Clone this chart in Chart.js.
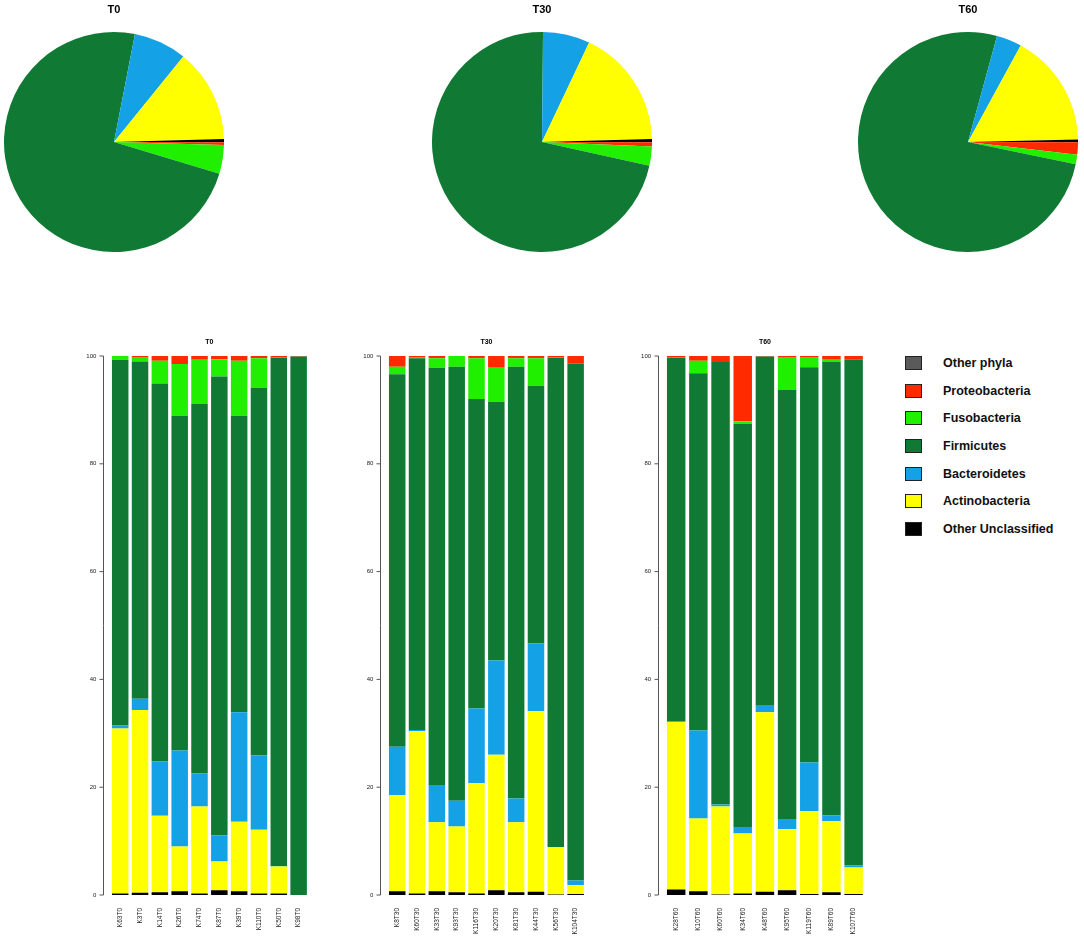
<!DOCTYPE html>
<html>
<head>
<meta charset="utf-8">
<script src="https://cdn.jsdelivr.net/npm/chart.js@4"></script>
<style>
  body { margin: 0; background: #fff; }
  #page { position: relative; width: 1084px; height: 937px; overflow: hidden; font-family: "Liberation Sans", Arial, sans-serif; }
  #page canvas { position: absolute; }
  #legend { position: absolute; left: 905px; top: 356px; }
  #legend .row { position: absolute; left: 0; height: 14px; white-space: nowrap; }
  #legend .box { position: absolute; left: 0; top: 0; width: 15px; height: 12px; border: 1px solid #222; }
  #legend .lbl { position: absolute; left: 38px; top: -1px; font-weight: bold; font-size: 12.5px; color: #111; line-height: 16px; }
</style>
</head>
<body>
<div id="page">
  <div id="legend"></div>
</div>
<script>

    // phyla, in legend order (top to bottom) = clockwise pie order from 3 o'clock
    const phyla = ['Other phyla', 'Proteobacteria', 'Fusobacteria', 'Firmicutes', 'Bacteroidetes', 'Actinobacteria', 'Other Unclassified'];
    const phylaColors = ['#5a5a5a', '#ff2a00', '#20f000', '#107a35', '#14a1e6', '#ffff00', '#000000'];

    // pie charts, mean relative abundance (%)
    const pieT0 = [0.05, 0.4, 4.2, 73.4, 7.8, 13.7, 0.45];
    const pieT30 = [0.05, 0.6, 2.8, 71.7, 6.9, 17.5, 0.45];
    const pieT60 = [0.05, 1.8, 1.4, 76.0, 3.7, 16.7, 0.35];

    // per sample bars, T0
    const samplesT0 = ['K63T0', 'K3T0', 'K14T0', 'K26T0', 'K74T0', 'K87T0', 'K39T0', 'K110T0', 'K50T0', 'K98T0'];
    const unclassT0 = [0.3, 0.4, 0.5, 0.7, 0.3, 0.9, 0.7, 0.3, 0.3, 0.0];
    const actinoT0 = [30.6, 33.9, 14.2, 8.3, 16.1, 5.3, 12.9, 11.8, 5.0, 0.0];
    const bacteroT0 = [0.6, 2.1, 10.1, 17.8, 6.2, 4.9, 20.3, 13.8, 0.1, 0.0];
    const firmT0 = [67.8, 62.6, 70.1, 62.1, 68.5, 85.1, 55.0, 68.2, 94.3, 99.9];
    const fusoT0 = [0.7, 0.8, 4.2, 9.6, 8.2, 3.2, 10.2, 5.5, 0.1, 0.0];
    const proteoT0 = [0.0, 0.2, 0.9, 1.5, 0.7, 0.6, 0.9, 0.4, 0.2, 0.1];
    const otherT0 = [0, 0, 0, 0, 0, 0, 0, 0, 0, 0];

    // T30
    const samplesT30 = ['K8T30', 'K60T30', 'K33T30', 'K93T30', 'K116T30', 'K20T30', 'K81T30', 'K44T30', 'K56T30', 'K104T30'];
    const unclassT30 = [0.7, 0.3, 0.7, 0.5, 0.3, 0.9, 0.5, 0.6, 0.1, 0.2];
    const actinoT30 = [17.8, 30.1, 12.8, 12.2, 20.5, 25.1, 13.0, 33.5, 8.8, 1.6];
    const bacteroT30 = [9.0, 0.2, 6.9, 4.8, 13.8, 17.5, 4.4, 12.6, 0.0, 0.9];
    const firmT30 = [69.1, 69.0, 77.4, 80.5, 57.4, 48.0, 80.1, 47.8, 90.8, 95.9];
    const fusoT30 = [1.4, 0.2, 1.8, 2.0, 7.6, 6.3, 1.6, 5.1, 0.1, 0.0];
    const proteoT30 = [2.0, 0.2, 0.4, 0.0, 0.4, 2.2, 0.4, 0.4, 0.2, 1.4];
    const otherT30 = [0, 0, 0, 0, 0, 0, 0, 0, 0, 0];

    // T60
    const samplesT60 = ['K28T60', 'K10T60', 'K60T60', 'K34T60', 'K48T60', 'K95T60', 'K119T60', 'K89T60', 'K107T60'];
    const unclassT60 = [1.0, 0.7, 0.1, 0.3, 0.6, 0.9, 0.2, 0.5, 0.2];
    const actinoT60 = [31.1, 13.5, 16.3, 11.1, 33.3, 11.3, 15.4, 13.2, 4.9];
    const bacteroT60 = [0.1, 16.3, 0.4, 1.2, 1.2, 1.9, 9.0, 1.1, 0.4];
    const firmT60 = [67.5, 66.3, 82.1, 74.8, 64.8, 79.6, 73.3, 84.1, 93.8];
    const fusoT60 = [0.1, 2.3, 0.0, 0.5, 0.0, 6.1, 1.9, 0.4, 0.0];
    const proteoT60 = [0.2, 0.9, 1.1, 12.1, 0.1, 0.2, 0.2, 0.7, 0.7];
    const otherT60 = [0, 0, 0, 0, 0, 0, 0, 0, 0];

    const yTicks = [0, 20, 40, 60, 80, 100];

    (function () {

        const FONT = '"Liberation Sans", Arial, sans-serif';
        const AXIS_GAP = 7;
        const page = document.getElementById('page');

        function addCanvas(left, top, w, h) {
            const c = document.createElement('canvas');
            c.width = w;
            c.height = h;
            c.style.left = left + 'px';
            c.style.top = top + 'px';
            c.style.width = w + 'px';
            c.style.height = h + 'px';
            page.appendChild(c);
            return c;
        }

        // ---- pies ----
        function pie(left, title, values) {
            const c = addCanvas(left, 0, 220, 252);
            new Chart(c, {
                type: 'pie',
                data: {
                    labels: phyla,
                    datasets: [{data: values, backgroundColor: phylaColors, borderWidth: 0}]
                },
                options: {
                    responsive: false,
                    animation: false,
                    rotation: 90,
                    plugins: {
                        legend: {display: false},
                        tooltip: {enabled: false},
                        title: {
                            display: true, text: title, color: '#000',
                            font: {family: FONT, size: 11, weight: 'bold'},
                            padding: {top: 3.7, bottom: 15.1}
                        }
                    }
                }
            });
        }

        pie(4, 'T0', pieT0);
        pie(432, 'T30', pieT30);
        pie(858, 'T60', pieT60);

        // ---- stacked bars ----
        // R style y axis, drawn a little left of the plot region
        const offsetAxis = {
            id: 'offsetAxis',
            afterDraw(chart) {
                const y = chart.scales.y;
                const x0 = Math.round(chart.chartArea.left - AXIS_GAP) + 0.5;
                const ctx = chart.ctx;
                ctx.save();
                ctx.strokeStyle = '#555';
                ctx.lineWidth = 1;
                ctx.beginPath();
                ctx.moveTo(x0, y.getPixelForValue(yTicks[0]));
                ctx.lineTo(x0, y.getPixelForValue(yTicks[yTicks.length - 1]));
                yTicks.forEach(v => {
                    const py = y.getPixelForValue(v);
                    ctx.moveTo(x0, py);
                    ctx.lineTo(x0 - 4, py);
                });
                ctx.stroke();
                ctx.restore();
            }
        };

        function bars(areaLeft, areaRight, title, samples, series) {
            const top = 330, h = 607, areaTop = 356, areaBottom = 895;
            const cl = Math.round(areaLeft - 50);
            const w = Math.ceil(areaRight - cl + 6);
            const yW = areaLeft - cl;
            const padRight = cl + w - areaRight;
            const c = addCanvas(cl, top, w, h);
            const titleSize = 7, titleCenter = 12;
            const padTop = titleCenter - titleSize * 0.6;
            const padBottom = (areaTop - top) - padTop - titleSize * 1.2;

            // bottom to top
            const stack = ['Other Unclassified', 'Actinobacteria', 'Bacteroidetes', 'Firmicutes', 'Fusobacteria', 'Proteobacteria', 'Other phyla'];
            new Chart(c, {
                type: 'bar',
                data: {
                    labels: samples,
                    datasets: stack.map((name, i) => ({
                        label: name,
                        data: series[i],
                        backgroundColor: phylaColors[phyla.indexOf(name)],
                        borderWidth: 0,
                        barPercentage: 0.833,
                        categoryPercentage: 1.0
                    }))
                },
                options: {
                    responsive: false,
                    animation: false,
                    layout: {padding: {left: 0, right: padRight, top: 0, bottom: 0}},
                    plugins: {
                        legend: {display: false},
                        tooltip: {enabled: false},
                        title: {
                            display: true, text: title, color: '#000', fullSize: false,
                            font: {family: FONT, size: titleSize, weight: 'bold'},
                            padding: {top: padTop, bottom: padBottom}
                        }
                    },
                    scales: {
                        x: {
                            stacked: true,
                            grid: {display: false, drawTicks: false},
                            border: {display: false},
                            ticks: {
                                autoSkip: false, minRotation: 90, maxRotation: 90, padding: 13,
                                color: '#222', font: {family: FONT, size: 6.5}
                            },
                            afterFit: s => { s.height = h - (areaBottom - top); }
                        },
                        y: {
                            stacked: true, min: 0, max: 100,
                            grid: {display: false, drawTicks: false},
                            border: {display: false},
                            ticks: {
                                stepSize: 20, padding: 14,
                                color: '#222', font: {family: FONT, size: 6}
                            },
                            afterFit: s => { s.width = yW; }
                        }
                    }
                },
                plugins: [offsetAxis]
            });
        }

        bars(110.3, 313.7, 'T0', samplesT0,
            [unclassT0, actinoT0, bacteroT0, firmT0, fusoT0, proteoT0, otherT0]);
        bars(387.3, 590.7, 'T30', samplesT30,
            [unclassT30, actinoT30, bacteroT30, firmT30, fusoT30, proteoT30, otherT30]);
        bars(665.1, 868.9, 'T60', samplesT60,
            [unclassT60, actinoT60, bacteroT60, firmT60, fusoT60, proteoT60, otherT60]);

        // ---- legend ----
        const legend = document.getElementById('legend');
        phyla.forEach((name, i) => {
            const row = document.createElement('div');
            row.className = 'row';
            row.style.top = (i * 27.67) + 'px';
            row.innerHTML = '<span class="box" style="background:' + phylaColors[i] + '"></span>' +
                '<span class="lbl">' + name + '</span>';
            legend.appendChild(row);
        });

    })()

</script>
</body>
</html>
